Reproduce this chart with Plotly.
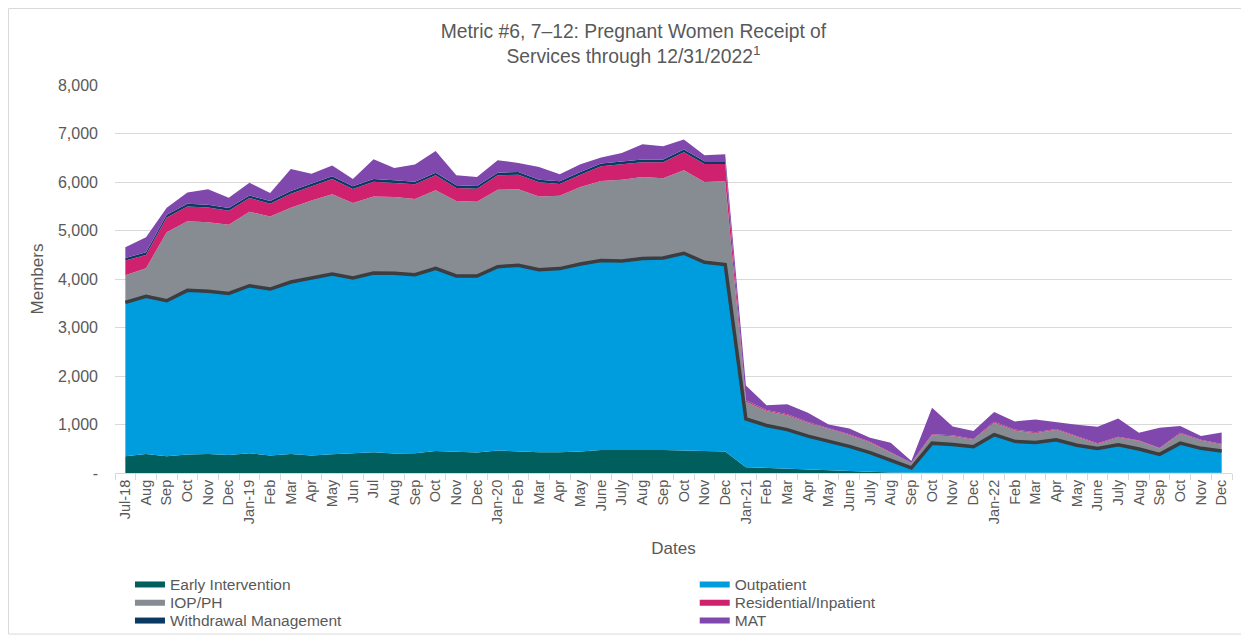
import plotly.graph_objects as go

months = ["Jul-18", "Aug", "Sep", "Oct", "Nov", "Dec",
          "Jan-19", "Feb", "Mar", "Apr", "May", "Jun", "Jul", "Aug", "Sep", "Oct", "Nov", "Dec",
          "Jan-20", "Feb", "Mar", "Apr", "May", "June", "July", "Aug", "Sep", "Oct", "Nov", "Dec",
          "Jan-21", "Feb", "Mar", "Apr", "May", "June", "July", "Aug", "Sep", "Oct", "Nov", "Dec",
          "Jan-22", "Feb", "Mar", "Apr", "May", "June", "July", "Aug", "Sep", "Oct", "Nov", "Dec"]

early_intervention = [345, 393, 345, 379, 393, 372, 407, 359, 393, 359, 386, 400, 428, 400, 407, 455, 441, 421,
                      462, 441, 428, 428, 441, 476, 476, 483, 476, 462, 448, 441,
                      120, 103, 97, 83, 62, 45, 25, 12, 3, 3, 3, 3,
                      3, 3, 3, 3, 3, 3, 3, 3, 3, 3, 3, 3]
outpatient = [3172, 3248, 3207, 3387, 3352, 3331, 3455, 3434, 3545, 3662, 3717, 3621, 3696, 3717, 3683, 3766, 3621, 3641,
              3793, 3842, 3765, 3786, 3869, 3903, 3896, 3938, 3958, 4069, 3897, 3856,
              995, 877, 798, 677, 588, 505, 395, 243, 100, 612, 587, 537,
              787, 649, 625, 680, 569, 502, 580, 491, 381, 612, 505, 449]
iop_ph = [559, 580, 1414, 1427, 1427, 1414, 1524, 1497, 1531, 1600, 1642, 1545, 1579, 1573, 1558, 1607, 1545, 1531,
          1586, 1565, 1510, 1503, 1587, 1642, 1676, 1682, 1642, 1710, 1655, 1717,
          355, 296, 295, 270, 255, 235, 210, 165, 97, 165, 170, 143,
          246, 224, 192, 207, 169, 95, 151, 164, 122, 195, 162, 131]
residential = [303, 276, 303, 304, 304, 290, 283, 262, 290, 290, 317, 289, 304, 289, 304, 310, 269, 269,
               297, 304, 290, 242, 255, 303, 311, 304, 331, 373, 373, 359,
               27, 21, 19, 17, 14, 12, 12, 9, 7, 17, 15, 14,
               19, 16, 15, 15, 14, 12, 13, 11, 9, 15, 11, 10]
withdrawal = [55, 55, 55, 55, 55, 55, 55, 55, 55, 55, 55, 55, 55, 55, 55, 55, 55, 55,
              55, 55, 55, 55, 55, 55, 55, 55, 55, 55, 55, 55,
              3, 3, 3, 3, 3, 3, 3, 3, 3, 3, 3, 3,
              3, 3, 3, 3, 3, 3, 3, 3, 3, 3, 3, 3]
mat = [221, 310, 145, 234, 317, 214, 262, 165, 455, 206, 221, 152, 407, 256, 352, 448, 207, 186,
       255, 186, 262, 145, 158, 124, 186, 317, 276, 207, 124, 144,
       305, 95, 208, 192, 80, 120, 82, 193, 35, 545, 180, 165,
       198, 168, 267, 138, 237, 339, 375, 158, 415, 140, 78, 238]

y_ticks = [0, 1000, 2000, 3000, 4000, 5000, 6000, 7000, 8000]
y_tick_text = ["-", "1,000", "2,000", "3,000", "4,000", "5,000", "6,000", "7,000", "8,000"]

x = list(range(len(months)))
FONT = "Liberation Sans, Arial, sans-serif"
TXT = "#595959"

series = [
    ("Early Intervention", early_intervention, "#005E5C"),
    ("Outpatient", outpatient, "#009DDE"),
    ("IOP/PH", iop_ph, "#878C93"),
    ("Residential/Inpatient", residential, "#D0216F"),
    ("Withdrawal Management", withdrawal, "#0A3A62"),
    ("MAT", mat, "#8047AD"),
]
legend_ids = ["legend", "legend2", "legend3", "legend4", "legend5", "legend6"]

fig = go.Figure()
for (name, vals, color), leg in zip(series, legend_ids):
    fig.add_trace(go.Scatter(
        x=x, y=vals, name=name, mode="lines", stackgroup="one",
        fillcolor=color, line=dict(color=color, width=0),
        legend=leg, hoverinfo="skip"))

# dark outline on top of the outpatient layer
op_top = [a + b for a, b in zip(early_intervention, outpatient)]
fig.add_trace(go.Scatter(x=x, y=op_top, mode="lines", showlegend=False,
                         line=dict(color="#3B3D40", width=3.5), hoverinfo="skip"))

leg_common = dict(orientation="v", xanchor="left", yanchor="top",
                  font=dict(family=FONT, size=15.5, color=TXT),
                  bgcolor="rgba(0,0,0,0)")
col_x = [0.0134, 0.519]
row_y = [-0.242, -0.289, -0.335]
legend_layout = {}
for i, leg in enumerate(legend_ids):
    legend_layout[leg] = dict(x=col_x[i % 2], y=row_y[i // 2], **leg_common)

fig.update_layout(
    width=1241, height=630,
    margin=dict(l=107, r=17, t=77, b=165, autoexpand=False),
    paper_bgcolor="white", plot_bgcolor="white",
    font=dict(family=FONT, color=TXT, size=14),
    title=dict(text="Metric #6, 7–12: Pregnant Women Receipt of<br>Services through 12/31/2022<sup>1</sup>",
               x=0.504, xanchor="center", y=0.953, yanchor="middle",
               font=dict(family=FONT, size=19.3, color=TXT)),
    showlegend=True,
    shapes=[dict(type="rect", xref="paper", yref="paper", x0=-0.0953, x1=1.0116, y0=-0.415, y1=1.1972,
                 line=dict(color="#D9D9D9", width=1), fillcolor="rgba(0,0,0,0)", layer="below")],
    **legend_layout,
)

fig.update_xaxes(
    range=[-0.5, len(months) - 0.5], tickmode="array", tickvals=x, ticktext=months,
    tickangle=-90, ticks="", showgrid=False, zeroline=False,
    showline=True, linecolor="#D9D9D9", linewidth=1,
    tickfont=dict(family=FONT, size=14.5, color=TXT),
    title=dict(text="Dates", font=dict(family=FONT, size=17, color=TXT), standoff=18),
    minor=dict(tickmode="array", tickvals=[i - 0.5 for i in range(len(months) + 1)],
               ticks="outside", ticklen=6, tickcolor="#D9D9D9", showgrid=False),
)
fig.update_yaxes(
    range=[0, 8000], tickmode="array", tickvals=y_ticks, ticktext=y_tick_text,
    showgrid=True, gridcolor="#D9D9D9", gridwidth=1, zeroline=False, showline=False,
    ticks="", ticklabelstandoff=16,
    tickfont=dict(family=FONT, size=16, color=TXT),
    title=dict(text="Members", font=dict(family=FONT, size=17, color=TXT), standoff=10),
)

fig.write_html("out.html")
